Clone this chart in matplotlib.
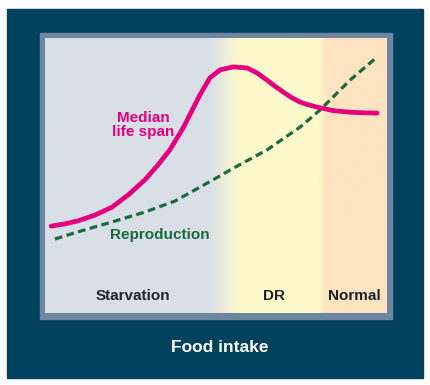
import numpy as np
import matplotlib.pyplot as plt
from matplotlib.colors import LinearSegmentedColormap
from matplotlib.patches import Rectangle

plt.rcParams['font.family'] = ['Liberation Sans', 'DejaVu Sans']

# --- data (food intake on 0-100 scale, response on 0-100 scale) ---
life_x = [1.8, 5.8, 9.6, 14.6, 19.6, 24.3, 29.2, 33.0, 36.5, 40.4, 45.3, 48.2,
          51.2, 55.0, 59.1, 62.0, 64.9, 67.2, 69.6, 72.0, 74.6, 77.0, 79.5,
          84.2, 89.2, 93.0, 97.1]
life_y = [31.6, 32.4, 33.5, 35.6, 38.5, 42.9, 48.4, 53.8, 59.3, 67.3, 79.3, 85.5,
          88.4, 89.5, 89.1, 87.3, 84.7, 82.5, 80.4, 78.4, 76.7, 75.7, 74.9,
          73.6, 73.0, 72.8, 72.7]

repro_x = [2.9, 9.6, 19.6, 29.2, 38.0, 49.1, 54.1, 64.9, 74.6, 80.4, 84.2, 89.2, 97.1]
repro_y = [26.9, 29.5, 33.1, 36.7, 40.7, 48.4, 52.0, 59.3, 67.6, 73.8, 78.5, 84.7, 93.1]

zones = ['Starvation', 'DR', 'Normal']
zone_x = [25.6, 67.0, 90.5]

# background colour stops along food intake
bg_stops = [0.0, 0.48, 0.57, 0.80, 0.825, 1.0]
bg_colors = ['#d9dfe7', '#d9dfe7', '#fef9ca', '#fef9ca', '#fde3c0', '#fde3c0']

navy = '#01425f'
frame = '#6f86a0'
magenta = '#e5007d'
green = '#1a6a3c'

W, H = 431, 385
fig = plt.figure(figsize=(W / 100, H / 100), dpi=100)
fig.patch.set_facecolor('white')

# navy card and grey frame, drawn in pixel units on a background axes
bg = fig.add_axes([0, 0, 1, 1], zorder=-1)
bg.set_xlim(0, W)
bg.set_ylim(H, 0)
bg.axis('off')
bg.add_patch(Rectangle((7, 9), 416, 369, color=navy))
bg.add_patch(Rectangle((40, 33), 352, 286, color=frame))
bg.text(220, 347, 'Food intake', color='white', fontsize=12.5,
        fontweight='bold', ha='center', va='center')

ax = fig.add_axes([45 / W, 1 - 313 / H, 342 / W, 275 / H], zorder=1)
ax.set_xlim(0, 100)
ax.set_ylim(0, 100)
ax.axis('off')

cmap = LinearSegmentedColormap.from_list('bg', list(zip(bg_stops, bg_colors)))
ax.imshow(np.linspace(0, 1, 400)[None, :], cmap=cmap, aspect='auto',
          extent=[0, 100, 0, 100], zorder=0)

ax.plot(repro_x, repro_y, color=green, lw=2.3, dashes=(2.4, 1.4),
        solid_capstyle='butt', zorder=2)
ax.plot(life_x, life_y, color=magenta, lw=3.4, solid_capstyle='round',
        solid_joinstyle='round', zorder=3)

ax.text(28.7, 68.2, 'Median\nlife span', color=magenta, fontsize=11, fontweight='bold',
        ha='center', va='center', linespacing=1.0)
ax.text(19.0, 28.4, 'Reproduction', color=green, fontsize=11, fontweight='bold',
        ha='left', va='center')
for name, zx in zip(zones, zone_x):
    ax.text(zx, 6.2, name, color='#22222e', fontsize=11, fontweight='bold',
            ha='center', va='center')

fig.savefig('out.png', dpi=100)
